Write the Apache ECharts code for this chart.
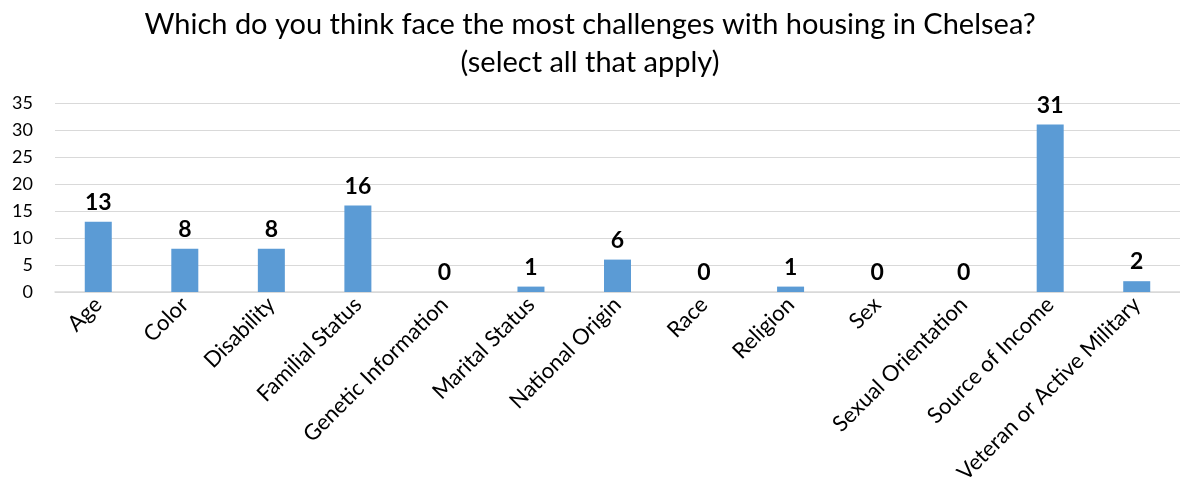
<!DOCTYPE html>
<html>
<head>
<meta charset="utf-8">
<script src="https://cdn.jsdelivr.net/npm/echarts@6/dist/echarts.min.js"></script>
<style>
  html, body { margin: 0; padding: 0; background: #ffffff; }
  #chart { width: 1180px; height: 495px; }
</style>
</head>
<body>
<div id="chart"></div>
<script>
// Survey responses: protected classes seen as facing the most housing challenges
const categories = [
  'Age', 'Color', 'Disability', 'Familial Status', 'Genetic Information',
  'Marital Status', 'National Origin', 'Race', 'Religion', 'Sex',
  'Sexual Orientation', 'Source of Income', 'Veteran or Active Military'
];
const responses = [13, 8, 8, 16, 0, 1, 6, 0, 1, 0, 0, 31, 2];
const titleLines = [
  'Which do you think face the most challenges with housing in Chelsea?',
  '(select all that apply)'
];

const FONT = 'Lato, "Open Sans", sans-serif';

const chart = echarts.init(document.getElementById('chart'), null, { renderer: 'canvas' });
chart.setOption({
  animation: false,
  backgroundColor: '#ffffff',
  title: {
    text: titleLines.join('\n'),
    left: 'center',
    top: 1,
    textStyle: {
      fontFamily: FONT,
      fontSize: 29,
      fontWeight: 'normal',
      color: '#000000',
      lineHeight: 38
    }
  },
  grid: {
    left: 55,
    top: 103,
    width: 1131,
    height: 189,
    containLabel: false
  },
  xAxis: {
    type: 'category',
    data: categories,
    axisLine: { show: true, lineStyle: { color: '#d9d9d9', width: 1.5 } },
    axisTick: { show: false },
    axisLabel: {
      rotate: 45,
      interval: 0,
      margin: 9,
      fontFamily: FONT,
      fontSize: 22,
      color: '#000000'
    }
  },
  yAxis: {
    type: 'value',
    min: 0,
    max: 35,
    interval: 5,
    axisLine: { show: false },
    axisTick: { show: false },
    splitLine: { show: true, lineStyle: { color: '#d9d9d9', width: 1.2 } },
    axisLabel: {
      fontFamily: FONT,
      fontSize: 18,
      color: '#000000',
      margin: 22
    }
  },
  series: [{
    type: 'bar',
    data: responses,
    barWidth: 27,
    itemStyle: { color: '#5b9bd5' },
    label: {
      show: true,
      position: 'top',
      distance: 8,
      fontFamily: FONT,
      fontSize: 23,
      fontWeight: 'bold',
      color: '#000000'
    }
  }]
});
</script>
</body>
</html>
